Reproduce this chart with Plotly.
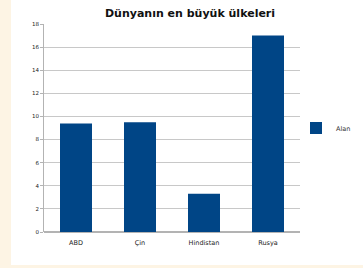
import plotly.graph_objects as go

categories = ["ABD", "Çin", "Hindistan", "Rusya"]
values = [9.4, 9.5, 3.3, 17.0]
series_name = "Alan"
y_ticks = [0, 2, 4, 6, 8, 10, 12, 14, 16, 18]

W, H = 363, 268
L, R, T, B = 44, 63, 24, 36
pw = W - L - R
ph = H - T - B
CREAM = "#fdf4e4"

def px_x(px):
    return (px - L) / pw

def px_y(py):
    return (H - B - py) / ph

fig = go.Figure()
fig.add_trace(go.Bar(
    x=categories, y=values, name=series_name,
    marker=dict(color="#004586", line=dict(width=0)),
    width=0.5, showlegend=True,
))

fig.update_layout(
    width=W, height=H,
    margin=dict(l=L, r=R, t=T, b=B, autoexpand=False),
    paper_bgcolor="white",
    plot_bgcolor="rgba(0,0,0,0)",
    font=dict(family="DejaVu Sans", size=6, color="#222222"),
    title=dict(text="<b>Dünyanın en büyük ülkeleri</b>", x=190 / W, xanchor="center",
               y=1 - 13 / H, yanchor="middle",
               font=dict(family="DejaVu Sans", size=11, color="#111111")),
    legend=dict(xref="container", yref="container", x=296 / W, y=1 - 128 / H,
                xanchor="left", yanchor="middle",
                font=dict(size=6.5, color="#333333"), bgcolor="rgba(0,0,0,0)",
                itemwidth=30),
    xaxis=dict(showgrid=False, showline=False, ticks="", tickfont=dict(size=6.5),
               range=[-0.5, 3.5], ticklabelstandoff=5),
    yaxis=dict(range=[0, 18], tickvals=y_ticks, showgrid=True, gridcolor="#c8c8c8",
               gridwidth=1, showline=True, linecolor="#b3b3b3", ticks="outside",
               ticklen=3, tickcolor="#b3b3b3", tickfont=dict(size=5.5, color="#222222"),
               zeroline=True, zerolinecolor="#b3b3b3"),
    shapes=[
        dict(type="rect", xref="paper", yref="paper",
             x0=px_x(-2), x1=px_x(11), y0=px_y(H + 2), y1=px_y(-2),
             fillcolor=CREAM, line=dict(width=0), layer="below"),
        dict(type="rect", xref="paper", yref="paper",
             x0=px_x(-2), x1=px_x(W + 2), y0=px_y(H + 2), y1=px_y(265),
             fillcolor=CREAM, line=dict(width=0), layer="below"),
    ],
    bargap=0.5,
)

fig.write_html(
    "out.html",
    config={"displayModeBar": False},
    post_script="document.documentElement.style.overflow='hidden';"
                "document.documentElement.style.margin='0';"
                "document.body.style.margin='0';document.body.style.overflow='hidden';"
                "document.body.style.background='white';",
)
